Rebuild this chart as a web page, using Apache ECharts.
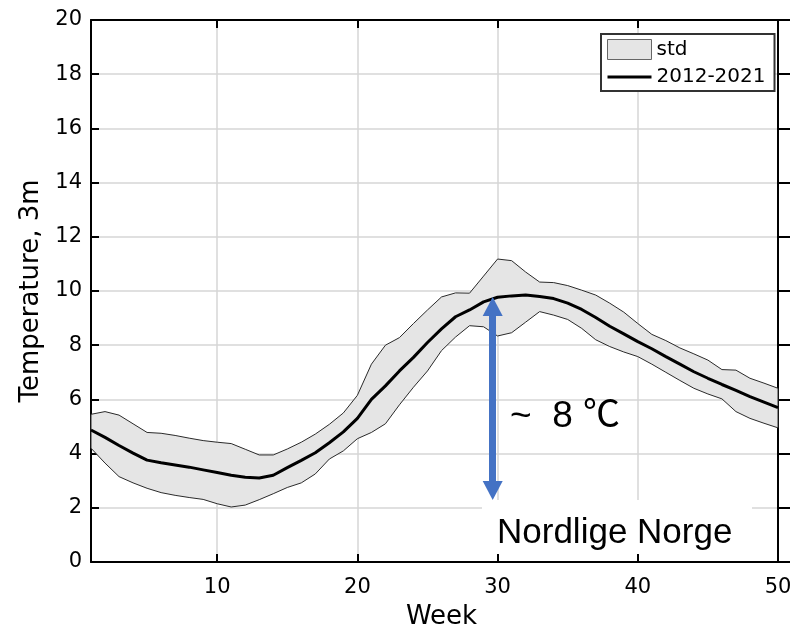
<!DOCTYPE html>
<html>
<head>
<meta charset="utf-8">
<title>Temperature, 3m – Nordlige Norge</title>
<script src="https://cdn.jsdelivr.net/npm/echarts@6/dist/echarts.min.js"></script>
<style>
  html, body { margin: 0; padding: 0; background: #fff; }
  #chart { width: 793px; height: 629px; }
</style>
</head>
<body>
<div id="chart"></div>
<script>
// Weekly mean temperature at 3 m depth, 2012-2021, with ±1 std band
const weeks = [1,2,3,4,5,6,7,8,9,10,11,12,13,14,15,16,17,18,19,20,21,22,23,24,25,
               26,27,28,29,30,31,32,33,34,35,36,37,38,39,40,41,42,43,44,45,46,47,48,49,50];

const meanTemp = [4.87,4.60,4.30,4.02,3.76,3.66,3.58,3.50,3.40,3.30,3.20,3.13,3.10,3.20,3.48,
                  3.75,4.03,4.40,4.80,5.30,6.00,6.50,7.05,7.55,8.10,8.60,9.05,9.30,9.60,9.77,
                  9.82,9.85,9.80,9.72,9.55,9.32,9.02,8.70,8.42,8.13,7.87,7.58,7.30,7.02,6.78,
                  6.55,6.33,6.10,5.90,5.70];

const stdUpper = [5.45,5.55,5.42,5.10,4.78,4.75,4.67,4.57,4.48,4.42,4.37,4.16,3.95,3.95,4.17,
                  4.42,4.72,5.08,5.50,6.15,7.30,8.00,8.28,8.80,9.30,9.78,9.93,9.92,10.55,11.18,
                  11.12,10.70,10.33,10.31,10.20,10.03,9.85,9.55,9.22,8.80,8.40,8.17,7.90,7.68,7.45,
                  7.10,7.08,6.78,6.60,6.41];

const stdLower = [4.20,3.65,3.15,2.92,2.72,2.56,2.46,2.38,2.31,2.15,2.03,2.10,2.30,2.52,2.75,
                  2.92,3.25,3.80,4.10,4.55,4.78,5.10,5.80,6.45,7.05,7.80,8.30,8.72,8.68,8.34,
                  8.46,8.85,9.24,9.11,8.95,8.62,8.20,7.95,7.75,7.58,7.30,7.00,6.70,6.41,6.20,
                  6.02,5.55,5.30,5.12,4.95];

const xTicks = [10, 20, 30, 40, 50];
const yMin = 0, yMax = 20, yStep = 2;

// Seasonal amplitude arrow (head centres, in data units)
const arrowWeek = 29.65;
const arrowFrom = 9.43;
const arrowTo = 2.64;

const seriesNames = ['std', '2012-2021'];

const pairs = (vals) => weeks.map((w, i) => [w, vals[i]]);

// Closed outline of the std band: upper edge forward, lower edge back
const bandOutline = pairs(stdUpper).concat(pairs(stdLower).reverse());

const FONT = '"DejaVu Sans", sans-serif';
const chart = echarts.init(document.getElementById('chart'), null, { renderer: 'canvas' });

const tickStyle = { color: '#000', width: 2 };
const gridLine = { color: '#d6d6d6', width: 1.5 };

chart.setOption({
  animation: false,
  backgroundColor: '#fff',
  grid: { left: 91, right: 15, top: 20, bottom: 67, containLabel: false, outerBoundsMode: 'none' },
  legend: {
    orient: 'vertical',
    left: 601, top: 34,
    padding: [5, 9, 4, 6],
    itemGap: 7,
    itemWidth: 44, itemHeight: 20,
    backgroundColor: '#fff',
    borderColor: '#333', borderWidth: 2, borderRadius: 0,
    selectedMode: false,
    textStyle: { fontFamily: FONT, fontSize: 20, color: '#000' },
    data: [
      { name: seriesNames[0], icon: 'rect',
        itemStyle: { color: '#e5e5e5', borderColor: '#666', borderWidth: 1 } },
      { name: seriesNames[1], icon: 'path://M0,0M44,20M0,8.5L44,8.5L44,11.5L0,11.5Z',
        itemStyle: { color: '#000', borderWidth: 0 } }
    ]
  },
  xAxis: [
    {
      type: 'value', position: 'bottom', min: 1, max: 50,
      name: 'Week', nameLocation: 'middle', nameGap: 42,
      nameTextStyle: { fontFamily: FONT, fontSize: 26, color: '#000', padding: [0, 0, 0, 14] },
      axisLine: { onZero: false, lineStyle: tickStyle },
      axisTick: { inside: true, length: 8, lineStyle: tickStyle, customValues: xTicks },
      axisLabel: { customValues: xTicks, fontFamily: FONT, fontSize: 21, color: '#000', margin: 15 },
      splitLine: { show: true, lineStyle: gridLine }
    },
    {
      type: 'value', position: 'top', min: 1, max: 50,
      axisLine: { onZero: false, lineStyle: tickStyle },
      axisTick: { inside: true, length: 8, lineStyle: tickStyle, customValues: xTicks },
      axisLabel: { show: false },
      splitLine: { show: false }
    }
  ],
  yAxis: [
    {
      type: 'value', position: 'left', min: yMin, max: yMax, interval: yStep,
      name: 'Temperature, 3m', nameLocation: 'middle', nameGap: 44, nameRotate: 90,
      nameTextStyle: { fontFamily: FONT, fontSize: 26, color: '#000' },
      axisLine: { show: true, onZero: false, lineStyle: tickStyle },
      axisTick: { show: true, inside: true, length: 8, lineStyle: tickStyle },
      axisLabel: { fontFamily: FONT, fontSize: 21, color: '#000', margin: 9 },
      splitLine: { show: true, lineStyle: gridLine }
    },
    {
      type: 'value', position: 'right', min: yMin, max: yMax, interval: yStep,
      axisLine: { show: true, onZero: false, lineStyle: tickStyle },
      axisTick: { show: true, inside: false, length: 12, lineStyle: tickStyle },
      axisLabel: { show: false },
      splitLine: { show: false }
    }
  ],
  series: [
    {
      name: seriesNames[0], type: 'custom', z: 2, silent: true,
      itemStyle: { color: '#e5e5e5' },
      data: [[weeks[0], stdLower[0]]],
      encode: { x: 0, y: 1 },
      renderItem: function (params, api) {
        if (params.dataIndex !== 0) return null;
        const pts = bandOutline.map(function (p) { return api.coord(p); });
        return {
          type: 'polygon',
          shape: { points: pts },
          style: { fill: '#e5e5e5', stroke: '#2a2a2a', lineWidth: 1, lineJoin: 'round' }
        };
      }
    },
    {
      name: seriesNames[1], type: 'line', z: 4,
      data: pairs(meanTemp), symbol: 'none', silent: true,
      lineStyle: { color: '#000', width: 3 },
      itemStyle: { color: '#000' },
      markLine: {
        silent: true, z: 6,
        symbol: ['triangle', 'triangle'],
        symbolSize: [20, 19],
        label: { show: false },
        emphasis: { disabled: true },
        lineStyle: { color: '#4472C4', width: 7, type: 'solid' },
        data: [[ { coord: [arrowWeek, arrowFrom] }, { coord: [arrowWeek, arrowTo] } ]]
      }
    }
  ],
  graphic: [
    {
      type: 'rect', z: 1, silent: true,
      shape: { x: 482, y: 500, width: 270, height: 54 },
      style: { fill: '#fff' }
    },
    {
      type: 'text', z: 7, silent: true,
      x: 497, y: 533,
      style: {
        text: 'Nordlige Norge',
        font: '35px "Liberation Sans", Arial, sans-serif',
        fill: '#000', verticalAlign: 'middle', align: 'left'
      }
    },
    {
      type: 'text', z: 7, silent: true,
      x: 510, y: 417,
      style: {
        text: '~  8 \u2103',
        font: '37px "Liberation Sans", "Noto Sans CJK JP", sans-serif',
        fill: '#000', verticalAlign: 'middle', align: 'left'
      }
    }
  ]
});
</script>
</body>
</html>
